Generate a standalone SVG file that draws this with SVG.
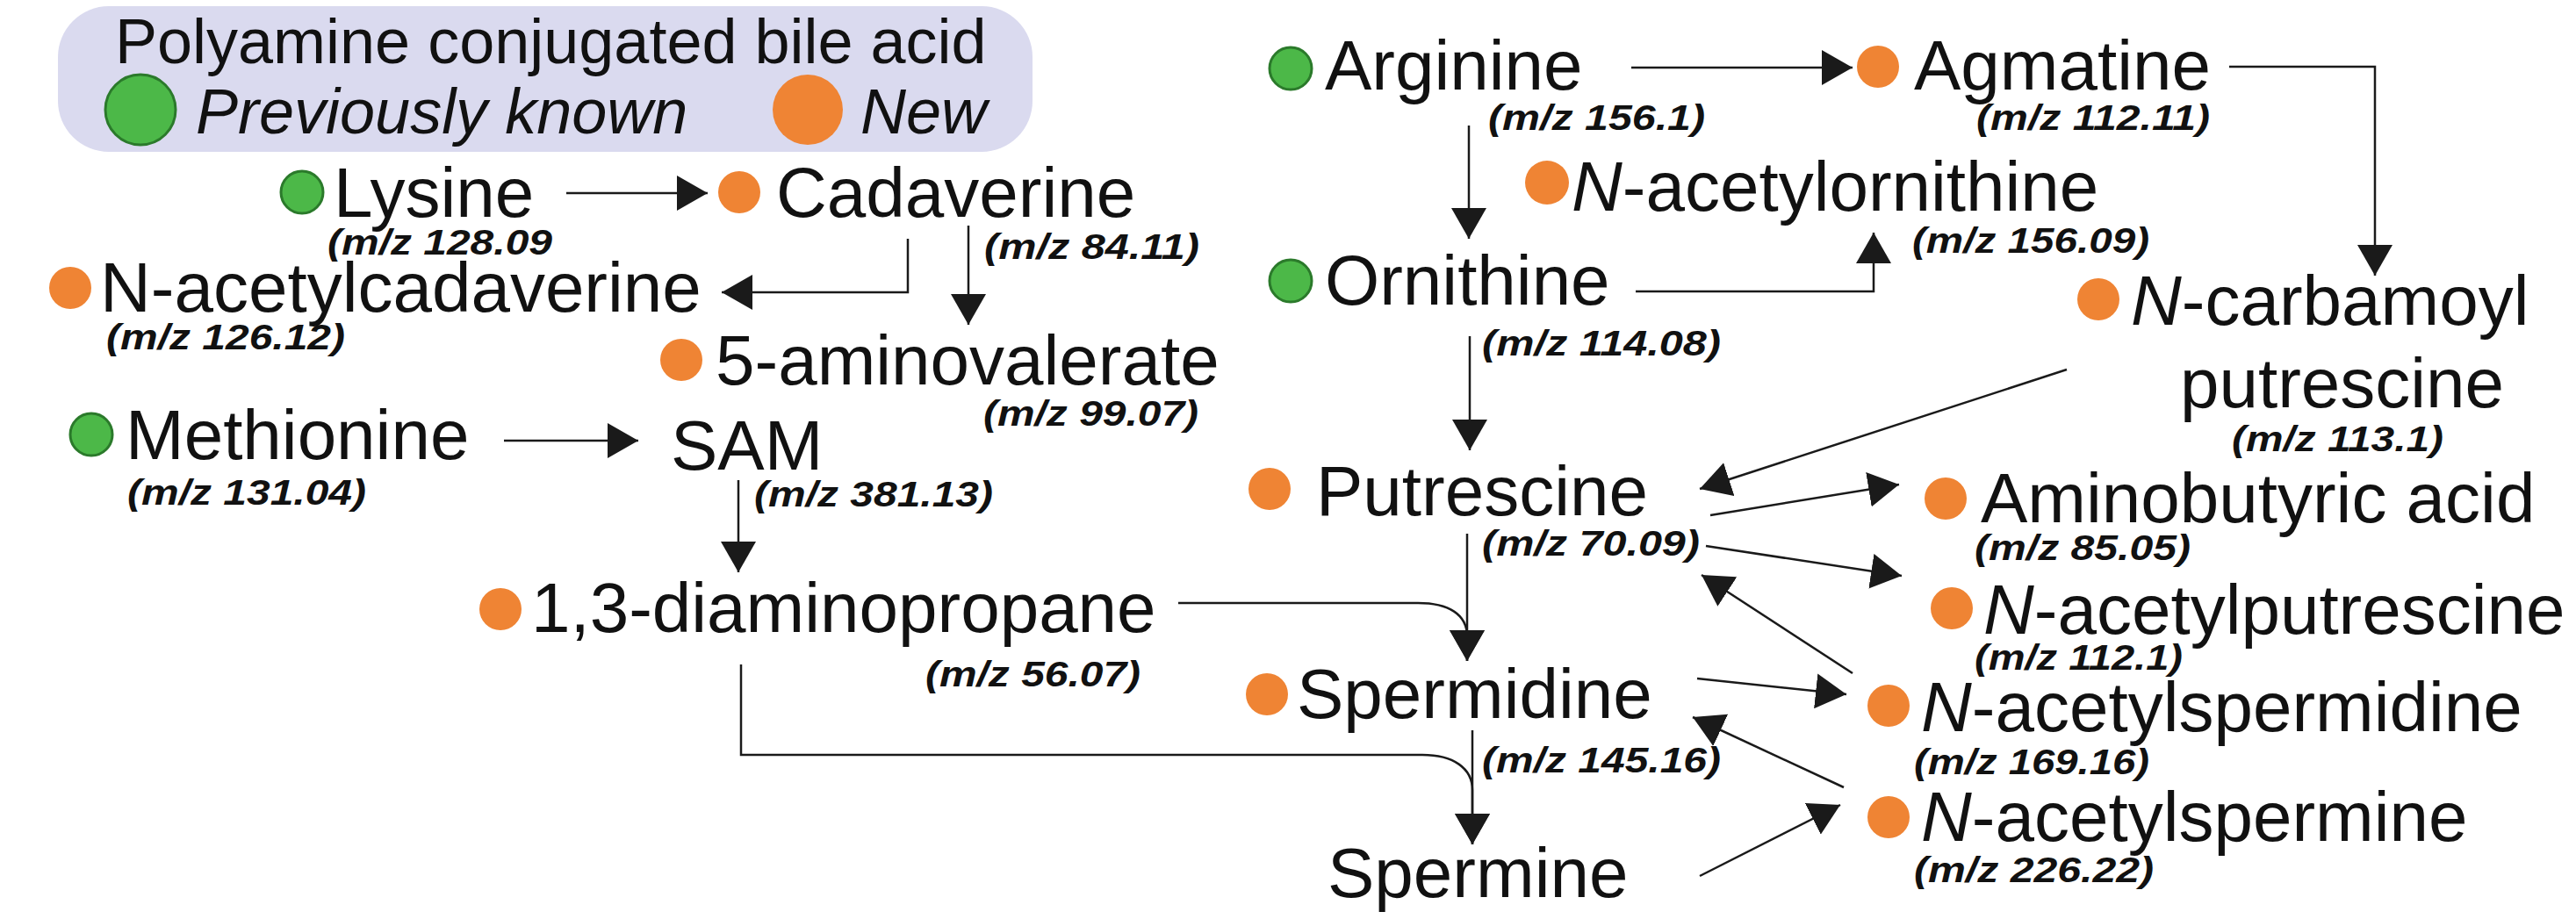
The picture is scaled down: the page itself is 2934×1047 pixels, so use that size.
<svg xmlns="http://www.w3.org/2000/svg" width="2934" height="1047" viewBox="0 0 2934 1047">
<style>
.lbl{font-family:"Liberation Sans",Arial,sans-serif;font-size:80px;fill:#111}
.mz{font-family:"Liberation Sans",Arial,sans-serif;font-size:40px;font-weight:bold;font-style:italic;fill:#111}
.leg{font-family:"Liberation Sans",Arial,sans-serif;font-size:72px;fill:#111}
.g{fill:#4cb848;stroke:#2b7a2b;stroke-width:3}
.o{fill:#ef8434}
.c{fill:none;stroke:#1a1a1a;stroke-width:2.5;marker-end:url(#ah)}
.it{font-style:italic}
</style>
<defs>
<marker id="ah" markerUnits="userSpaceOnUse" markerWidth="35" markerHeight="40" refX="35" refY="20" orient="auto" viewBox="0 0 35 40">
<path d="M0,0 L35,20 L0,40 z" fill="#1a1a1a"/>
</marker>
</defs>
<rect width="2934" height="1047" fill="#ffffff"/>
<g id="legend">
<rect x="66" y="7" width="1110" height="166" rx="58" ry="58" fill="#dadaef"/>
<text class="leg" x="131" y="72">Polyamine conjugated bile acid</text>
<circle class="g" cx="160" cy="125" r="40"/>
<text class="leg it" x="223" y="152">Previously known</text>
<circle class="o" cx="920" cy="125" r="40"/>
<text class="leg it" x="980" y="152">New</text>
</g>
<g id="connectors">
<path class="c" d="M645,220 H806"/>
<path class="c" d="M1034,272 V333 H822"/>
<path class="c" d="M1103,257 V370"/>
<path class="c" d="M574,502 H727"/>
<path class="c" d="M841,547 V652"/>
<path class="c" d="M1342,687 H1615 C1650,687 1671,700 1671,725 V753"/>
<path class="c" d="M1671,608 V753"/>
<path class="c" d="M844,757 V860 H1620 C1655,860 1677,875 1677,900 V962"/>
<path class="c" d="M1677,832 V962"/>
<path class="c" d="M1858,77 H2110"/>
<path class="c" d="M2539,76 H2705 V314"/>
<path class="c" d="M1673,143 V272"/>
<path class="c" d="M1863,332 H2134 V265"/>
<path class="c" d="M1674,383 V513"/>
<path class="c" d="M2354,421 L1936,557"/>
<path class="c" d="M1948,587 L2163,552"/>
<path class="c" d="M1943,622 L2166,656"/>
<path class="c" d="M2110,767 L1938,655"/>
<path class="c" d="M1933,773 L2103,791"/>
<path class="c" d="M2100,897 L1928,817"/>
<path class="c" d="M1936,998 L2096,917"/>
</g>
<g id="lysine">
<circle class="g" cx="344" cy="219" r="24"/>
<text class="lbl" x="380" y="247">Lysine</text>
<text class="mz" x="373" y="290" textLength="256" lengthAdjust="spacingAndGlyphs">(m/z 128.09</text>
</g>
<g id="cadaverine">
<circle class="o" cx="842" cy="219" r="24"/>
<text class="lbl" x="884" y="247">Cadaverine</text>
<text class="mz" x="1121" y="295" textLength="245" lengthAdjust="spacingAndGlyphs">(m/z 84.11)</text>
</g>
<g id="n-acetylcadaverine">
<circle class="o" cx="80" cy="328" r="24"/>
<text class="lbl" x="114" y="355">N-acetylcadaverine</text>
<text class="mz" x="121" y="398" textLength="272" lengthAdjust="spacingAndGlyphs">(m/z 126.12)</text>
</g>
<g id="aminovalerate">
<circle class="o" cx="776" cy="410" r="24"/>
<text class="lbl" x="815" y="438">5-aminovalerate</text>
<text class="mz" x="1120" y="485" textLength="245" lengthAdjust="spacingAndGlyphs">(m/z 99.07)</text>
</g>
<g id="methionine">
<circle class="g" cx="104" cy="495" r="24"/>
<text class="lbl" x="143" y="523">Methionine</text>
<text class="mz" x="145" y="575" textLength="272" lengthAdjust="spacingAndGlyphs">(m/z 131.04)</text>
</g>
<g id="sam">
<text class="lbl" x="764" y="535">SAM</text>
<text class="mz" x="859" y="577" textLength="272" lengthAdjust="spacingAndGlyphs">(m/z 381.13)</text>
</g>
<g id="diaminopropane">
<circle class="o" cx="570" cy="694" r="24"/>
<text class="lbl" x="605" y="720">1,3-diaminopropane</text>
<text class="mz" x="1054" y="782" textLength="245" lengthAdjust="spacingAndGlyphs">(m/z 56.07)</text>
</g>
<g id="arginine">
<circle class="g" cx="1470" cy="78" r="24"/>
<text class="lbl" x="1509" y="102">Arginine</text>
<text class="mz" x="1695" y="148" textLength="247" lengthAdjust="spacingAndGlyphs">(m/z 156.1)</text>
</g>
<g id="agmatine">
<circle class="o" cx="2139" cy="76" r="24"/>
<text class="lbl" x="2180" y="102">Agmatine</text>
<text class="mz" x="2251" y="148" textLength="266" lengthAdjust="spacingAndGlyphs">(m/z 112.11)</text>
</g>
<g id="n-acetylornithine">
<circle class="o" cx="1762" cy="208" r="25"/>
<text class="lbl" x="1790" y="240"><tspan class="it">N</tspan>-acetylornithine</text>
<text class="mz" x="2178" y="288" textLength="270" lengthAdjust="spacingAndGlyphs">(m/z 156.09)</text>
</g>
<g id="ornithine">
<circle class="g" cx="1470" cy="320" r="24"/>
<text class="lbl" x="1509" y="347">Ornithine</text>
<text class="mz" x="1688" y="405" textLength="272" lengthAdjust="spacingAndGlyphs">(m/z 114.08)</text>
</g>
<g id="n-carbamoylputrescine">
<circle class="o" cx="2390" cy="341" r="24"/>
<text class="lbl" x="2427" y="370"><tspan class="it">N</tspan>-carbamoyl</text>
<text class="lbl" x="2483" y="464">putrescine</text>
<text class="mz" x="2542" y="514" textLength="241" lengthAdjust="spacingAndGlyphs">(m/z 113.1)</text>
</g>
<g id="putrescine">
<circle class="o" cx="1446" cy="557" r="24"/>
<text class="lbl" x="1499" y="587">Putrescine</text>
<text class="mz" x="1688" y="633" textLength="248" lengthAdjust="spacingAndGlyphs">(m/z 70.09)</text>
</g>
<g id="aminobutyric">
<circle class="o" cx="2216" cy="568" r="24"/>
<text class="lbl" x="2256" y="595">Aminobutyric acid</text>
<text class="mz" x="2249" y="638" textLength="246" lengthAdjust="spacingAndGlyphs">(m/z 85.05)</text>
</g>
<g id="n-acetylputrescine">
<circle class="o" cx="2223" cy="693" r="24"/>
<text class="lbl" x="2259" y="722"><tspan class="it">N</tspan>-acetylputrescine</text>
<text class="mz" x="2249" y="763" textLength="237" lengthAdjust="spacingAndGlyphs">(m/z 112.1)</text>
</g>
<g id="spermidine">
<circle class="o" cx="1443" cy="791" r="24"/>
<text class="lbl" x="1477" y="818">Spermidine</text>
<text class="mz" x="1688" y="880" textLength="272" lengthAdjust="spacingAndGlyphs">(m/z 145.16)</text>
</g>
<g id="n-acetylspermidine">
<circle class="o" cx="2151" cy="804" r="24"/>
<text class="lbl" x="2188" y="833"><tspan class="it">N</tspan>-acetylspermidine</text>
<text class="mz" x="2180" y="882" textLength="268" lengthAdjust="spacingAndGlyphs">(m/z 169.16)</text>
</g>
<g id="spermine">
<text class="lbl" x="1512" y="1022">Spermine</text>
</g>
<g id="n-acetylspermine">
<circle class="o" cx="2151" cy="931" r="24"/>
<text class="lbl" x="2188" y="958"><tspan class="it">N</tspan>-acetylspermine</text>
<text class="mz" x="2180" y="1005" textLength="273" lengthAdjust="spacingAndGlyphs">(m/z 226.22)</text>
</g>
</svg>
